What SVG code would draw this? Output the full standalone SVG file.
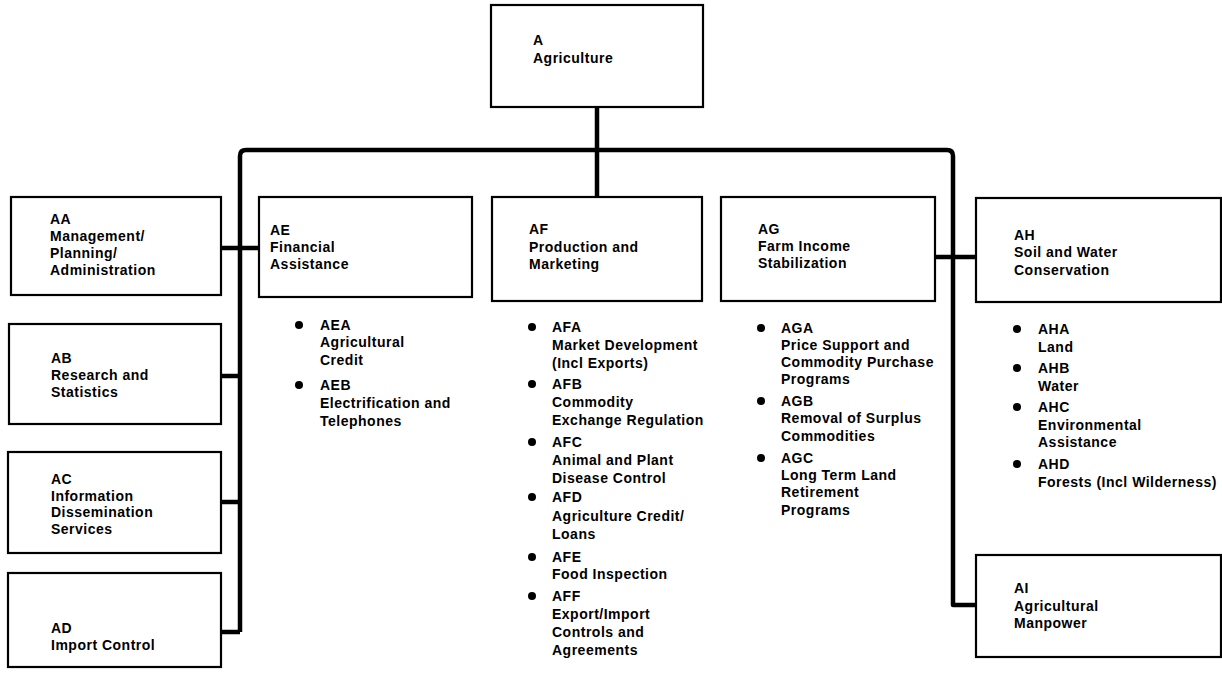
<svg xmlns="http://www.w3.org/2000/svg" width="1222" height="687" viewBox="0 0 1222 687">
  <style>
    .box { fill: #fff; stroke: #000; stroke-width: 2.2; }
    .wire { fill: none; stroke: #000; stroke-width: 4.5; stroke-linejoin: round; }
    text { font-family: "Liberation Sans", Arial, sans-serif; font-size: 14px; font-weight: bold; letter-spacing: 0.5px; fill: #000; }
    .dot { fill: #000; }
  </style>
  <rect width="1222" height="687" fill="#fff"/>

  <!-- connectors -->
  <g id="connectors">
    <path class="wire" d="M597 107 V198"/>
    <path class="wire" d="M240 632 V156 Q240 150 246 150 H947 Q953 150 953 156 V605 H976"/>
    <path class="wire" d="M221 248 H259"/>
    <path class="wire" d="M221 376 H240"/>
    <path class="wire" d="M221 502 H240"/>
    <path class="wire" d="M221 632 H240"/>
    <path class="wire" d="M935 257 H976"/>
  </g>

  <g id="node-A">
    <rect class="box" x="491" y="5" width="212" height="102"/>
    <text x="533" y="45">A</text>
    <text x="533" y="63">Agriculture</text>
  </g>

  <g id="node-AA">
    <rect class="box" x="11" y="197" width="210" height="98"/>
    <text x="50" y="224">AA</text>
    <text x="50" y="241">Management/</text>
    <text x="50" y="258">Planning/</text>
    <text x="50" y="275">Administration</text>
  </g>

  <g id="node-AB">
    <rect class="box" x="9" y="324" width="212" height="100"/>
    <text x="51" y="363">AB</text>
    <text x="51" y="380">Research and</text>
    <text x="51" y="397">Statistics</text>
  </g>

  <g id="node-AC">
    <rect class="box" x="8" y="452" width="213" height="101"/>
    <text x="51" y="484">AC</text>
    <text x="51" y="501">Information</text>
    <text x="51" y="517">Dissemination</text>
    <text x="51" y="534">Services</text>
  </g>

  <g id="node-AD">
    <rect class="box" x="8" y="573" width="213" height="94"/>
    <text x="51" y="633">AD</text>
    <text x="51" y="650">Import Control</text>
  </g>

  <g id="node-AE">
    <rect class="box" x="259" y="197" width="213" height="100"/>
    <text x="270" y="235">AE</text>
    <text x="270" y="252">Financial</text>
    <text x="270" y="269">Assistance</text>
    <circle class="dot" cx="299" cy="325" r="4"/>
    <text x="320" y="330">AEA</text>
    <text x="320" y="347">Agricultural</text>
    <text x="320" y="365">Credit</text>
    <circle class="dot" cx="299" cy="385" r="4"/>
    <text x="320" y="390">AEB</text>
    <text x="320" y="408">Electrification and</text>
    <text x="320" y="426">Telephones</text>
  </g>

  <g id="node-AF">
    <rect class="box" x="492" y="197" width="210" height="104"/>
    <text x="529" y="234">AF</text>
    <text x="529" y="252">Production and</text>
    <text x="529" y="269">Marketing</text>
    <circle class="dot" cx="532" cy="327" r="4"/>
    <text x="552" y="332">AFA</text>
    <text x="552" y="350">Market Development</text>
    <text x="552" y="368">(Incl Exports)</text>
    <circle class="dot" cx="532" cy="384" r="4"/>
    <text x="552" y="389">AFB</text>
    <text x="552" y="407">Commodity</text>
    <text x="552" y="425">Exchange Regulation</text>
    <circle class="dot" cx="532" cy="442" r="4"/>
    <text x="552" y="447">AFC</text>
    <text x="552" y="465">Animal and Plant</text>
    <text x="552" y="483">Disease Control</text>
    <circle class="dot" cx="532" cy="497" r="4"/>
    <text x="552" y="502">AFD</text>
    <text x="552" y="521">Agriculture Credit/</text>
    <text x="552" y="539">Loans</text>
    <circle class="dot" cx="532" cy="557" r="4"/>
    <text x="552" y="562">AFE</text>
    <text x="552" y="579">Food Inspection</text>
    <circle class="dot" cx="532" cy="596" r="4"/>
    <text x="552" y="601">AFF</text>
    <text x="552" y="619">Export/Import</text>
    <text x="552" y="637">Controls and</text>
    <text x="552" y="655">Agreements</text>
  </g>

  <g id="node-AG">
    <rect class="box" x="721" y="197" width="214" height="104"/>
    <text x="758" y="234">AG</text>
    <text x="758" y="251">Farm Income</text>
    <text x="758" y="268">Stabilization</text>
    <circle class="dot" cx="761" cy="328" r="4"/>
    <text x="781" y="333">AGA</text>
    <text x="781" y="350">Price Support and</text>
    <text x="781" y="367">Commodity Purchase</text>
    <text x="781" y="384">Programs</text>
    <circle class="dot" cx="761" cy="401" r="4"/>
    <text x="781" y="406">AGB</text>
    <text x="781" y="423">Removal of Surplus</text>
    <text x="781" y="441">Commodities</text>
    <circle class="dot" cx="761" cy="458" r="4"/>
    <text x="781" y="463">AGC</text>
    <text x="781" y="480">Long Term Land</text>
    <text x="781" y="497">Retirement</text>
    <text x="781" y="515">Programs</text>
  </g>

  <g id="node-AH">
    <rect class="box" x="976" y="198" width="245" height="104"/>
    <text x="1014" y="240">AH</text>
    <text x="1014" y="257">Soil and Water</text>
    <text x="1014" y="275">Conservation</text>
    <circle class="dot" cx="1017" cy="329" r="4"/>
    <text x="1038" y="334">AHA</text>
    <text x="1038" y="352">Land</text>
    <circle class="dot" cx="1017" cy="368" r="4"/>
    <text x="1038" y="373">AHB</text>
    <text x="1038" y="391">Water</text>
    <circle class="dot" cx="1017" cy="407" r="4"/>
    <text x="1038" y="412">AHC</text>
    <text x="1038" y="430">Environmental</text>
    <text x="1038" y="447">Assistance</text>
    <circle class="dot" cx="1017" cy="464" r="4"/>
    <text x="1038" y="469">AHD</text>
    <text x="1038" y="487">Forests (Incl Wilderness)</text>
  </g>

  <g id="node-AI">
    <rect class="box" x="976" y="555" width="245" height="102"/>
    <text x="1014" y="593">AI</text>
    <text x="1014" y="611">Agricultural</text>
    <text x="1014" y="628">Manpower</text>
  </g>
</svg>
